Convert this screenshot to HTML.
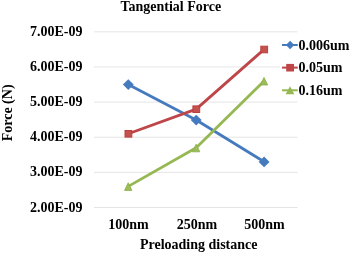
<!DOCTYPE html>
<html><head><meta charset="utf-8">
<style>
html,body{margin:0;padding:0;background:#fff;}
body{width:350px;height:253px;overflow:hidden;}
svg{display:block;filter:blur(0.35px);}
text{font-family:"Liberation Serif",serif;font-weight:bold;fill:#000;}
</style></head><body>
<svg width="350" height="253" viewBox="0 0 350 253">
<rect width="350" height="253" fill="#fff"/>
<g stroke="#e5e5e5" stroke-width="1">
<line x1="94" x2="297.5" y1="31.80" y2="31.80"/>
<line x1="94" x2="280" y1="66.94" y2="66.94"/>
<line x1="94" x2="297.5" y1="102.08" y2="102.08"/>
<line x1="94" x2="297.5" y1="137.22" y2="137.22"/>
<line x1="94" x2="297.5" y1="172.36" y2="172.36"/>
<line x1="94" x2="297.5" y1="207.50" y2="207.50"/>
</g>
<text x="170.8" y="11" font-size="14" text-anchor="middle">Tangential Force</text>
<g font-size="14" text-anchor="end">
<text x="82.4" y="35.80">7.00E-09</text>
<text x="82.4" y="70.94">6.00E-09</text>
<text x="82.4" y="106.08">5.00E-09</text>
<text x="82.4" y="141.22">4.00E-09</text>
<text x="82.4" y="176.36">3.00E-09</text>
<text x="82.4" y="211.50">2.00E-09</text>
</g>
<g font-size="14" text-anchor="middle">
<text x="128.5" y="229">100nm</text>
<text x="197" y="229">250nm</text>
<text x="264.5" y="229">500nm</text>
<text x="198.7" y="248.5">Preloading distance</text>
</g>
<text font-size="14" text-anchor="middle" transform="translate(12.1,112.9) rotate(-90)">Force (N)</text>
<!-- series -->
<g fill="none" stroke-width="2.8" stroke-linejoin="round">
<polyline stroke="#467abf" points="128.3,84.5 196.2,120.0 264.1,161.8"/>
<polyline stroke="#be4649" points="128.3,133.7 196.2,109.1 264.1,49.4"/>
<polyline stroke="#96b852" points="128.3,186.4 196.2,147.8 264.1,81.0"/>
</g>
<g fill="#467abf">
<path d="M128.3 79.2l5.4 5.4l-5.4 5.4l-5.4 -5.4z"/>
<path d="M196.2 114.7l5.4 5.4l-5.4 5.4l-5.4 -5.4z"/>
<path d="M264.1 156.5l5.4 5.4l-5.4 5.4l-5.4 -5.4z"/>
</g>
<g fill="#c5514f" stroke="#b9403f" stroke-width="1">
<rect x="125.0" y="130.5" width="6.8" height="6.6"/>
<rect x="192.9" y="105.9" width="6.8" height="6.6"/>
<rect x="260.8" y="46.2" width="6.8" height="6.6"/>
</g>
<g fill="#9cbd5a" stroke="#8aae45" stroke-width="0.8" stroke-linejoin="miter">
<path d="M128.2 182.8l3.7 7.6h-7.4z"/>
<path d="M196.1 144.2l3.7 7.6h-7.4z"/>
<path d="M264.0 77.4l3.7 7.6h-7.4z"/>
</g>
<!-- legend -->
<g fill="none" stroke-width="2">
<line x1="282" x2="297.8" y1="45" y2="45" stroke="#467abf"/>
<line x1="282" x2="297.8" y1="67.6" y2="67.6" stroke="#be4649"/>
<line x1="282" x2="297.8" y1="90.3" y2="90.3" stroke="#96b852"/>
</g>
<path fill="#467abf" d="M290.1 40.8l4.2 4.2l-4.2 4.2l-4.2-4.2z"/>
<rect fill="#be4649" x="286.2" y="63.9" width="7.8" height="7.6"/>
<path fill="#96b852" d="M290 86.2l4.4 8.1h-8.8z"/>
<g font-size="14">
<text x="298.4" y="49.5">0.006um</text>
<text x="298.4" y="72">0.05um</text>
<text x="298.4" y="94.5">0.16um</text>
</g>
</svg>
</body></html>
